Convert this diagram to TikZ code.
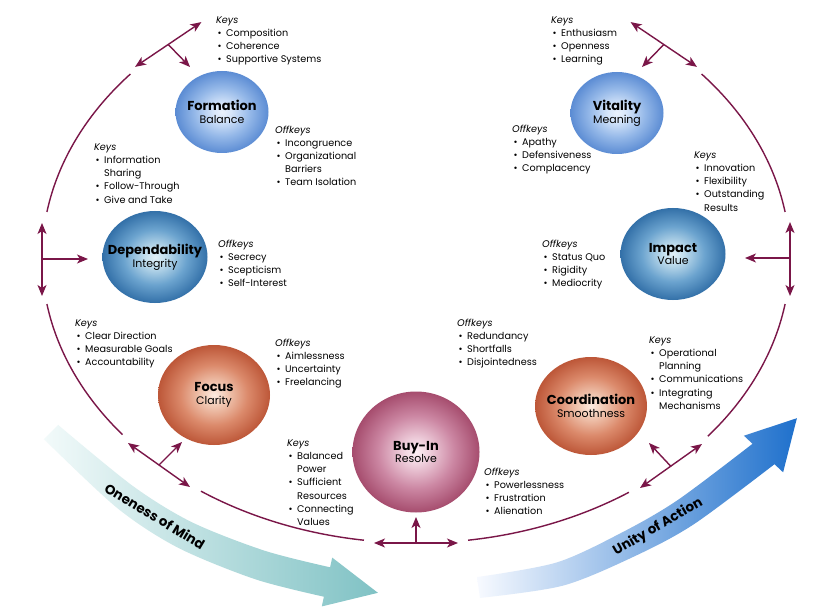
\documentclass[tikz,border=0pt]{standalone}
\usepackage{fontspec}
\setmainfont{Poppins}
\usetikzlibrary{arrows.meta,shapes.geometric}

\definecolor{arccol}{RGB}{122,22,72}
\definecolor{tealL}{rgb}{0.95,0.98,0.98}
\definecolor{tealM}{rgb}{0.74,0.87,0.87}
\definecolor{tealD}{rgb}{0.50,0.76,0.77}
\definecolor{blueL}{rgb}{0.97,0.98,1.00}
\definecolor{blueM}{rgb}{0.62,0.74,0.92}
\definecolor{blueD}{rgb}{0.12,0.44,0.80}

\pgfdeclareradialshading{sphLB}{\pgfpoint{0bp}{0bp}}{rgb(0bp)=(0.92,0.95,0.99); rgb(5bp)=(0.84,0.90,0.98); rgb(15bp)=(0.58,0.72,0.91); rgb(25bp)=(0.36,0.55,0.83); rgb(50bp)=(0.36,0.55,0.83)}
\pgfdeclareradialshading{sphST}{\pgfpoint{0bp}{0bp}}{rgb(0bp)=(0.88,0.94,0.97); rgb(5bp)=(0.76,0.87,0.93); rgb(15bp)=(0.42,0.64,0.81); rgb(25bp)=(0.20,0.44,0.66); rgb(50bp)=(0.20,0.44,0.66)}
\pgfdeclareradialshading{sphOR}{\pgfpoint{0bp}{0bp}}{rgb(0bp)=(0.99,0.92,0.88); rgb(5bp)=(0.95,0.80,0.72); rgb(15bp)=(0.86,0.54,0.42); rgb(25bp)=(0.74,0.34,0.22); rgb(50bp)=(0.74,0.34,0.22)}
\pgfdeclareradialshading{sphMV}{\pgfpoint{0bp}{0bp}}{rgb(0bp)=(0.99,0.94,0.96); rgb(5bp)=(0.94,0.82,0.87); rgb(15bp)=(0.80,0.53,0.64); rgb(25bp)=(0.65,0.30,0.43); rgb(50bp)=(0.65,0.30,0.43)}

\newcommand{\kbul}{\hspace*{1.5bp}\makebox[8.5bp][l]{\textbullet}}
\newcommand{\kind}{\hspace*{10bp}}

\tikzset{
  arcline/.style={draw=arccol, line width=1.4bp},
  arr/.style={draw=arccol, line width=1.4bp, -{Stealth[length=11bp,width=9bp,inset=3bp]}},
  darr/.style={draw=arccol, line width=1.4bp, {Stealth[length=11bp,width=9bp,inset=3bp]}-{Stealth[length=11bp,width=9bp,inset=3bp]}},
  sph/.style={ellipse, inner sep=0pt, shade},
  sphtxt/.style={align=center, inner sep=0pt, font=\fontsize{11}{13}\selectfont},
  lst/.style={anchor=north west, align=left, inner sep=0pt, font=\fontsize{9.7}{13.2}\selectfont},
  bigtxt/.style={font=\bfseries\fontsize{13.5}{15}\selectfont, inner sep=0pt}
}
\newcommand{\nm}[2]{{\bfseries\fontsize{13}{13.5}\selectfont #1}\\{\fontsize{11}{13}\selectfont #2}}

\begin{document}
\begin{tikzpicture}[x=1bp,y=-1bp]
\useasboundingbox (0,0) rectangle (834,610);
\fill[white] (0,0) rectangle (834,610);

% big band arrows
\shade[left color=tealL, middle color=tealM, right color=tealD]
  plot[smooth] coordinates {(58.1,424.9) (132.7,485.9) (191.8,522.2) (264.6,550.7) (330.1,567.3)}
  -- (332.2,557.6) -- (377.9,592.8) -- (321.8,606.4) -- (323.9,596.7)
  -- plot[smooth] coordinates {(323.9,596.7) (255.4,579.3) (178.2,547.8) (117.3,508.1) (43.9,439.1)} -- cycle;
\shade[left color=blueL, middle color=blueM, right color=blueD]
  plot[smooth] coordinates {(477.0,577.1) (556.9,562.4) (622.9,532.0) (678.1,499.8) (752.5,443.8)}
  -- (743.9,435.7) -- (796.9,418.2) -- (783.1,472.3) -- (774.5,464.2)
  -- plot[smooth] coordinates {(774.5,464.2) (693.9,524.2) (635.1,556.0) (563.1,585.6) (480.0,597.9)} -- cycle;

\node[bigtxt, rotate=-31] (om) at (155,516) {Oneness of Mind};
\node[bigtxt, rotate=30] (ua) at (658,527) {Unity of Action};

% ellipse arcs
\draw[arcline] plot[domain=139.8:170.7, samples=40, variable=\t] ({416+374*cos(\t)},{258-285*sin(\t)});
\draw[arcline] plot[domain=189.3:218.3, samples=40, variable=\t] ({416+374*cos(\t)},{258-285*sin(\t)});
\draw[arcline] plot[domain=234.9:262, samples=40, variable=\t] ({416+374*cos(\t)},{258-285*sin(\t)});
\draw[arcline] plot[domain=278:304.7, samples=40, variable=\t] ({416+374*cos(\t)},{258-285*sin(\t)});
\draw[arcline] plot[domain=321.3:350.7, samples=40, variable=\t] ({416+374*cos(\t)},{258-285*sin(\t)});
\draw[arcline] plot[domain=9.3:40.2, samples=40, variable=\t] ({416+374*cos(\t)},{258-285*sin(\t)});

% spheres
\node[sph, shading=sphLB, minimum width=93bp, minimum height=82bp] (formation) at (222,112) {};
\node[sph, shading=sphLB, minimum width=93bp, minimum height=82bp] (vitality) at (617,113) {};
\node[sph, shading=sphST, minimum width=105bp, minimum height=92bp] (depend) at (155,257) {};
\node[sph, shading=sphST, minimum width=105bp, minimum height=92bp] (impact) at (673,254) {};
\node[sph, shading=sphOR, minimum width=112bp, minimum height=100bp] (focus) at (214,395) {};
\node[sph, shading=sphOR, minimum width=112bp, minimum height=98bp] (coord) at (591,406) {};
\node[sph, shading=sphMV, minimum width=127bp, minimum height=121bp] (buyin) at (416,452) {};

\node[sphtxt] (formationT) at (formation.center) {\nm{Formation}{Balance}};
\node[sphtxt] (vitalityT) at (vitality.center) {\nm{Vitality}{Meaning}};
\node[sphtxt] (dependT) at (depend.center) {\nm{Dependability}{Integrity}};
\node[sphtxt] (impactT) at (impact.center) {\nm{Impact}{Value}};
\node[sphtxt] (focusT) at (focus.center) {\nm{Focus}{Clarity}};
\node[sphtxt] (coordT) at (coord.center) {\nm{Coordination}{Smoothness}};
\node[sphtxt] (buyinT) at (buyin.center) {\nm{Buy-In}{Resolve}};

% junction coordinates
\coordinate (jF) at (168.2,44.5);  \coordinate (jFa) at (135,66.9);  \coordinate (jFb) at (201.4,22.1); \coordinate (jFp) at (190,67);
\coordinate (jV) at (663.8,44.5);  \coordinate (jVa) at (697,66.9);  \coordinate (jVb) at (630.6,22.1); \coordinate (jVp) at (642,67);
\coordinate (jD) at (42,259);      \coordinate (jDa) at (42,223);    \coordinate (jDb) at (42,296);     \coordinate (jDp) at (88,259);
\coordinate (jI) at (790,258);     \coordinate (jIa) at (790,222);   \coordinate (jIb) at (790,296);    \coordinate (jIp) at (745,258);
\coordinate (jFo) at (159,465);    \coordinate (jFoa) at (128,443);  \coordinate (jFob) at (190,487);   \coordinate (jFop) at (182,442);
\coordinate (jB) at (416,543);     \coordinate (jBa) at (374,543);   \coordinate (jBb) at (458,543);    \coordinate (jBp) at (416,517);
\coordinate (jC) at (671,466.5);   \coordinate (jCa) at (640,488);   \coordinate (jCb) at (702,444);    \coordinate (jCp) at (649,443);

\draw[darr] (jFa) -- (jFb);  \draw[arr] (jF) -- (jFp);
\draw[darr] (jVa) -- (jVb);  \draw[arr] (jV) -- (jVp);
\draw[darr] (jDa) -- (jDb);  \draw[arr] (jD) -- (jDp);
\draw[darr] (jIa) -- (jIb);  \draw[arr] (jI) -- (jIp);
\draw[darr] (jFoa) -- (jFob);\draw[arr] (jFo) -- (jFop);
\draw[darr] (jBa) -- (jBb);  \draw[arr] (jB) -- (jBp);
\draw[darr] (jCa) -- (jCb);  \draw[arr] (jC) -- (jCp);

% lists (top = first-line centre - 3.5)
\node[lst] (k1) at (216,16.5) {\textit{Keys}\\\kbul Composition\\\kbul Coherence\\\kbul Supportive Systems};
\node[lst] (o1) at (275,125.5) {\textit{Offkeys}\\\kbul Incongruence\\\kbul Organizational\\\kind Barriers\\\kbul Team Isolation};
\node[lst] (k2) at (94,143.5) {\textit{Keys}\\\kbul Information\\\kind Sharing\\\kbul Follow-Through\\\kbul Give and Take};
\node[lst] (o2) at (218,239.5) {\textit{Offkeys}\\\kbul Secrecy\\\kbul Scepticism\\\kbul Self-Interest};
\node[lst] (k3) at (75,319.5) {\textit{Keys}\\\kbul Clear Direction\\\kbul Measurable Goals\\\kbul Accountability};
\node[lst] (o3) at (275,338.5) {\textit{Offkeys}\\\kbul Aimlessness\\\kbul Uncertainty\\\kbul Freelancing};
\node[lst] (k4) at (287,439.5) {\textit{Keys}\\\kbul Balanced\\\kind Power\\\kbul Sufficient\\\kind Resources\\\kbul Connecting\\\kind Values};
\node[lst] (o4) at (484,467.5) {\textit{Offkeys}\\\kbul Powerlessness\\\kbul Frustration\\\kbul Alienation};
\node[lst] (o5) at (457,318.5) {\textit{Offkeys}\\\kbul Redundancy\\\kbul Shortfalls\\\kbul Disjointedness};
\node[lst] (k5) at (649,336.5) {\textit{Keys}\\\kbul Operational\\\kind Planning\\\kbul Communications\\\kbul Integrating\\\kind Mechanisms};
\node[lst] (o6) at (542,239.5) {\textit{Offkeys}\\\kbul Status Quo\\\kbul Rigidity\\\kbul Mediocrity};
\node[lst] (k6) at (694,151.5) {\textit{Keys}\\\kbul Innovation\\\kbul Flexibility\\\kbul Outstanding\\\kind Results};
\node[lst] (o7) at (512,124.5) {\textit{Offkeys}\\\kbul Apathy\\\kbul Defensiveness\\\kbul Complacency};
\node[lst] (k7) at (551,16.5) {\textit{Keys}\\\kbul Enthusiasm\\\kbul Openness\\\kbul Learning};
\end{tikzpicture}
\end{document}
